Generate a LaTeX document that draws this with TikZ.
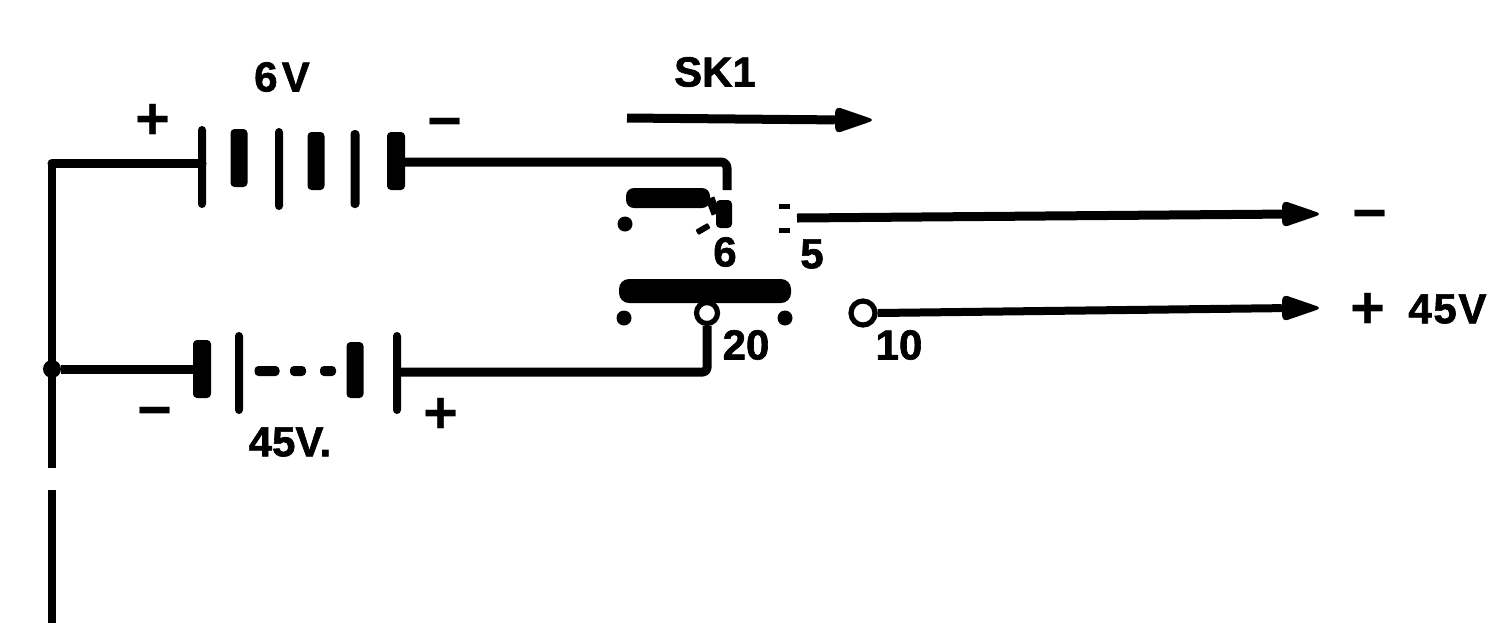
\documentclass[tikz,border=0pt]{standalone}
\usepackage{fontspec}
\usetikzlibrary{shapes.geometric}
\setmainfont{Liberation Sans}
\begin{document}
\begin{tikzpicture}[x=0.5pt,y=-0.5pt,
  plate/.style={fill=black,draw=none,inner sep=0pt,outer sep=0pt,rounded corners=2pt,rectangle},
  wire/.style={draw=black,line width=4.5pt,line join=round},
  rail/.style={draw=black,line width=4pt,line join=round},
  lbl/.style={inner sep=0pt,font=\fontsize{21}{21}\bfseries\addfontfeature{FakeBold=1.5}\selectfont},
  sign/.style={inner sep=0pt,font=\fontsize{30}{30}\bfseries\selectfont},
  dotm/.style={circle,fill=black,inner sep=0pt,minimum size=7.5pt},
  ring/.style={circle,draw=black,line width=2.6pt,inner sep=0pt,minimum size=10.5pt,fill=white},
  tipb/.style={isosceles triangle,isosceles triangle apex angle=38,fill=black,inner sep=0pt,rounded corners=3pt,minimum height=20pt}]
\useasboundingbox (0,0) rectangle (1490,623);
% upper battery plates
\node[plate,minimum width=4pt,minimum height=41pt] (a1) at (202,167) {};
\node[plate,minimum width=8.5pt,minimum height=29pt] (a2) at (239,158) {};
\node[plate,minimum width=4pt,minimum height=41pt] (a3) at (279,169) {};
\node[plate,minimum width=8.5pt,minimum height=29pt] (a4) at (316,161) {};
\node[plate,minimum width=4.5pt,minimum height=39pt] (a5) at (355,169) {};
\node[plate,minimum width=9pt,minimum height=29pt] (a6) at (396,161) {};
% lower battery plates
\node[plate,minimum width=9pt,minimum height=29pt] (b1) at (202,369) {};
\node[plate,minimum width=4pt,minimum height=41pt] (b2) at (239,373) {};
\node[plate,minimum width=12.5pt,minimum height=5pt] (d1) at (267,371) {};
\node[plate,minimum width=8pt,minimum height=5pt] (d2) at (298,371) {};
\node[plate,minimum width=8pt,minimum height=5pt] (d3) at (328,371) {};
\node[plate,minimum width=8.5pt,minimum height=28pt] (b3) at (355,370) {};
\node[plate,minimum width=4pt,minimum height=41pt] (b4) at (397,373) {};
% switch bars and contacts
\node[plate,minimum width=42pt,minimum height=10pt,rounded corners=4pt] (s1) at (668,198) {};
\node[plate,minimum width=8pt,minimum height=14pt] (s1c) at (724,214) {};
\node[plate,minimum width=86pt,minimum height=12pt,rounded corners=5pt] (s2) at (705,291) {};
\node[dotm] (c1) at (625,224) {};
\node[dotm] (c2) at (624,318) {};
\node[dotm] (c3) at (785,318) {};
\node[ring] (r20) at (707,313) {};
\node[ring,minimum size=12pt] (r10) at (863,313) {};
\node[plate,minimum width=7pt,minimum height=3pt,rotate=30,rounded corners=0.5pt] (m1) at (703,229) {};
\node[plate,minimum width=5.5pt,minimum height=2.5pt,rounded corners=0pt] (m2) at (784,206) {};
\node[plate,minimum width=5.5pt,minimum height=2.5pt,rounded corners=0pt] (m3) at (784,230) {};
% junction and free ends
\node[circle,fill=black,inner sep=0pt,minimum size=9pt] (j) at (52,369) {};
\coordinate (tl) at (52,163);
\coordinate (railend) at (52,468);
\coordinate (rail2a) at (52,490);
\coordinate (rail2b) at (52,623);
\coordinate (tr) at (727,162);
\coordinate (trb) at (727,190);
\coordinate (bc) at (707,372);
\coordinate (w5) at (797,218);
\coordinate (hs) at (627,118);
% arrow tips
\node[tipb] (h5) at (1292,214) {};
\node[tipb] (h10) at (1292,308) {};
\node[tipb] (hsk) at (845,120) {};
% wires
\draw[rail] (tl) -- (railend);
\draw[wire,line cap=round] (a1.center |- tl) -- (tl);
\draw[rail] (rail2a) -- (rail2b);
\draw[wire,rounded corners=3pt] (a6.center |- tr) -- (tr) -- (trb);
\draw[wire] (j) -- (b1);
\draw[wire,rounded corners=2pt] (b4.center |- bc) -- (bc) -- (r20.south);
\draw[wire] (s1c.west) -- (s1.east);
\draw[wire] (w5) -- (h5);
\draw[wire,line width=4pt] (r10.east) -- (h10);
\draw[wire] (hs) -- (hsk);
% labels
\node[lbl] (t6v) at (282,77) {\addfontfeature{LetterSpace=10}6V};
\node[lbl] (tsk) at (715,72) {SK1};
\node[lbl] (t45) at (290,442) {45V.};
\node[lbl] (t6) at (725,252) {6};
\node[lbl] (t5) at (812,254) {5};
\node[lbl] (t20) at (746,345) {20};
\node[lbl] (t10) at (899,345) {10};
\node[sign] (p1) at (153,122) {+};
\node[sign] (n1) at (445,130) {\textminus};
\node[sign] (n2) at (155,419) {\textminus};
\node[sign] (p2) at (441,416) {+};
\node[sign] (n3) at (1370,222) {\textminus};
\node[sign] (p3) at (1368,311) {+};
\node[lbl,anchor=west] (t45b) at (1408,309) {\addfontfeature{LetterSpace=4}45V};
\end{tikzpicture}
\end{document}
